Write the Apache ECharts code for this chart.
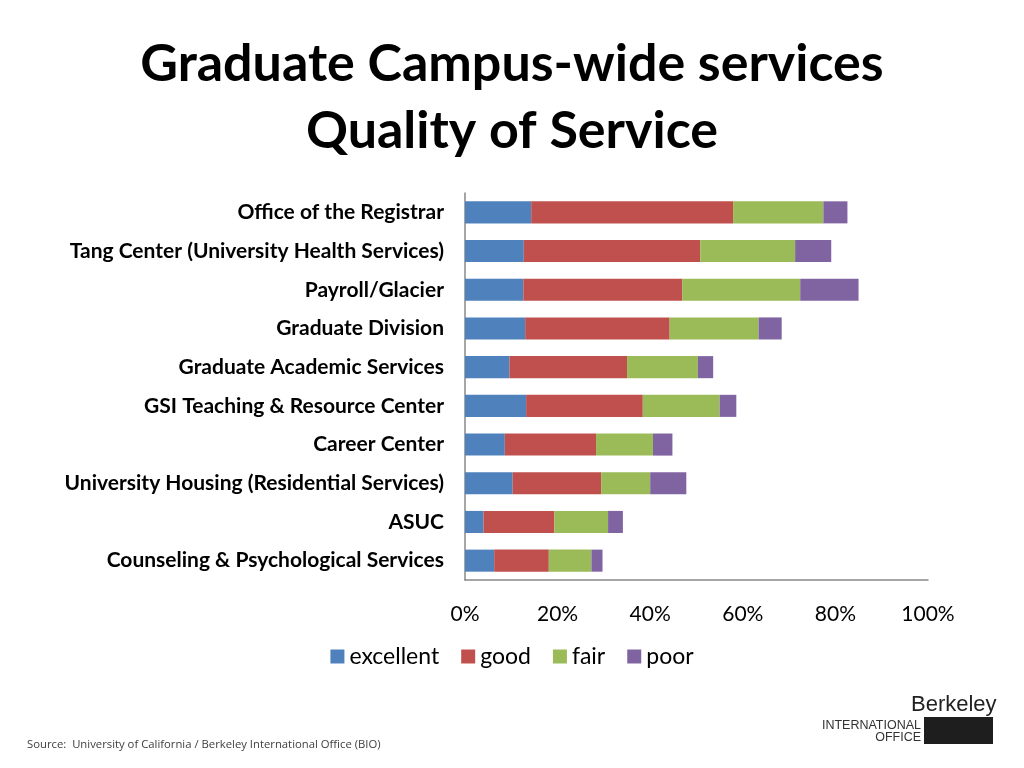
<!DOCTYPE html>
<html>
<head>
<meta charset="utf-8">
<script src="https://cdn.jsdelivr.net/npm/echarts@6/dist/echarts.min.js"></script>
<style>
  html, body { margin: 0; padding: 0; background: #fff; }
  #chart { width: 1024px; height: 768px; }
</style>
</head>
<body>
<div id="chart"></div>
<script>
// categories, bottom to top as echarts draws them
var categories = [
  'Counseling & Psychological Services',
  'ASUC',
  'University Housing (Residential Services)',
  'Career Center',
  'GSI Teaching & Resource Center',
  'Graduate Academic Services',
  'Graduate Division',
  'Payroll/Glacier',
  'Tang Center (University Health Services)',
  'Office of the Registrar'
];
// percent of respondents
var excellent = [6.3, 4.0, 10.3, 8.6, 13.2, 9.6, 13.0, 12.6, 12.7, 14.3];
var good      = [11.8, 15.3, 19.1, 19.7, 25.2, 25.4, 31.2, 34.3, 38.1, 43.6];
var fair      = [9.2, 11.6, 10.6, 12.3, 16.6, 15.3, 19.2, 25.5, 20.5, 19.5];
var poor      = [2.4, 3.2, 7.8, 4.2, 3.6, 3.3, 5.0, 12.6, 7.8, 5.2];
var xTicks = [0, 20, 40, 60, 80, 100];

var chart = echarts.init(document.getElementById('chart'));

function bar(name, data, color) {
  return {
    name: name,
    type: 'bar',
    stack: 'total',
    barWidth: '57%',
    data: data,
    itemStyle: { color: color },
    emphasis: { disabled: true }
  };
}

chart.setOption({
  animation: false,
  color: ['#4F81BD', '#C0504D', '#9BBB59', '#8064A2'],
  title: {
    text: 'Graduate Campus-wide services\nQuality of Service',
    left: 'center',
    top: 26,
    textStyle: {
      fontFamily: 'Lato',
      fontWeight: 'bold',
      fontSize: 52,
      lineHeight: 67,
      color: '#000'
    }
  },
  legend: {
    bottom: 95,
    left: 'center',
    itemWidth: 14,
    itemHeight: 14,
    itemGap: 22,
    icon: 'rect',
    textStyle: { fontFamily: 'Lato', fontSize: 23, color: '#000' },
    data: ['excellent', 'good', 'fair', 'poor']
  },
  grid: {
    left: 465,
    top: 193,
    width: 463,
    height: 387
  },
  xAxis: {
    type: 'value',
    min: xTicks[0],
    max: xTicks[xTicks.length - 1],
    interval: 20,
    axisLine: { show: true, lineStyle: { color: '#898989', width: 1.5 } },
    axisTick: { show: false },
    splitLine: { show: false },
    axisLabel: {
      formatter: '{value}%',
      margin: 24,
      fontFamily: 'Lato',
      fontSize: 21,
      color: '#000'
    }
  },
  yAxis: {
    type: 'category',
    data: categories,
    axisLine: { show: true, lineStyle: { color: '#898989', width: 1.5 } },
    axisTick: { show: false },
    axisLabel: {
      margin: 21,
      fontFamily: 'Lato',
      fontWeight: 'bold',
      fontSize: 21,
      color: '#000'
    }
  },
  series: [
    bar('excellent', excellent, '#4F81BD'),
    bar('good', good, '#C0504D'),
    bar('fair', fair, '#9BBB59'),
    bar('poor', poor, '#8064A2')
  ],
  graphic: [
    {
      type: 'text',
      left: 27,
      top: 739,
      style: {
        text: 'Source:  University of California / Berkeley International Office (BIO)',
        fontFamily: 'Open Sans',
        fontSize: 11.3,
        fill: '#404040'
      }
    },
    {
      type: 'text',
      left: 911,
      top: 694,
      style: { text: 'Berkeley', fontFamily: 'Liberation Sans', fontSize: 22, fill: '#222' }
    },
    {
      type: 'text',
      right: 103,
      top: 719,
      style: { text: 'INTERNATIONAL', fontFamily: 'Liberation Sans', fontSize: 12.5, fill: '#333', align: 'right' }
    },
    {
      type: 'text',
      right: 103,
      top: 731,
      style: { text: 'OFFICE', fontFamily: 'Liberation Sans', fontSize: 12.5, fill: '#333', align: 'right' }
    },
    {
      type: 'rect',
      left: 924,
      top: 717,
      shape: { width: 69, height: 27 },
      style: { fill: '#1e1e1e' }
    }
  ]
});
</script>
</body>
</html>
